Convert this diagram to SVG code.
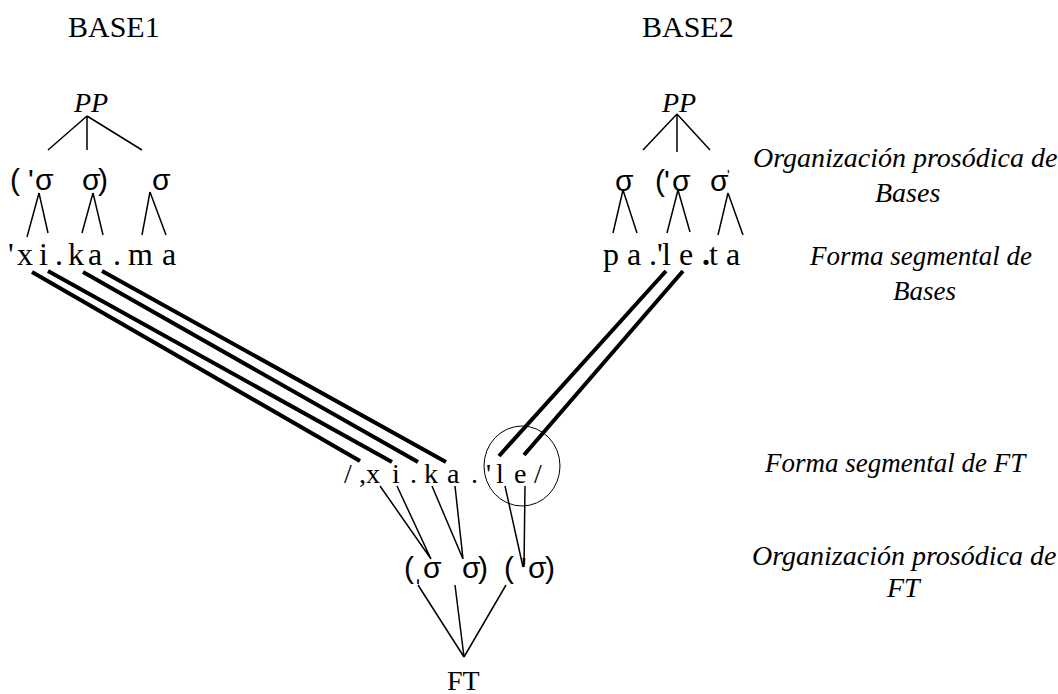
<svg xmlns="http://www.w3.org/2000/svg" width="1058" height="694" viewBox="0 0 1058 694">
  <style>
    .ser { font-family: "Liberation Serif", "DejaVu Serif", serif; fill: #000; }
    .it { font-family: "Liberation Serif", "DejaVu Serif", serif; font-style: italic; fill: #000; }
    .sans { font-family: "Liberation Sans", "DejaVu Sans", sans-serif; fill: #000; }
    .title { font-size: 30px; }
    .pp { font-size: 28px; }
    .seg { font-size: 32px; }
    .segft { font-size: 28px; }
    .syl { font-size: 30px; }
    .lab { font-size: 27px; }
    .lab2 { font-size: 28px; }
    .thin { stroke: #000; stroke-width: 1.5; fill: none; }
    .thick { stroke: #000; stroke-width: 4; fill: none; }
    .ring { stroke: #000; stroke-width: 1; fill: none; }
  </style>
  <rect width="1058" height="694" fill="#fff"/>

  <!-- Base 1 -->
  <g id="base1-title"><text class="ser title" x="68" y="37">BASE1</text></g>
  <g id="base1-pp"><text class="it pp" x="74" y="112">PP</text></g>
  <g id="base1-syllables"><text class="sans syl" x="10 28 35 82 98 152" y="190">('σσ)σ</text></g>
  <g id="base1-segments"><text class="ser seg" x="8 17 39 55 68 88 113 128 162" y="265">'xi.ka.ma</text></g>

  <!-- Base 2 -->
  <g id="base2-title"><text class="ser title" x="642" y="37">BASE2</text></g>
  <g id="base2-pp"><text class="it pp" x="662" y="112">PP</text></g>
  <g id="base2-syllables"><text class="sans syl" x="615 655 664 672 710" y="191">σ('σσ</text><text class="sans" font-size="14" x="727" y="180">'</text></g>
  <g id="base2-segments"><text class="ser seg" x="603 627 649 657 662 679" y="265">pa.'le</text><text class="ser seg" x="702" y="265" font-weight="bold">.</text><text class="ser seg" x="709 726" y="265">ta</text></g>

  <!-- FT -->
  <g id="ft-segments"><text class="ser segft" x="344 359 366 392 410 424 447 471 486 496 514 534" y="483">/,xi.ka.'le/</text></g>
  <g id="ft-syllables"><text class="sans syl" x="404 413 423 462 478 504 521 528 545" y="578">(ˌσσ)('σ)</text></g>
  <g id="ft-root"><text class="ser pp" x="447" y="690">FT</text></g>

  <!-- Level labels -->
  <g id="label-org-bases"><text class="it lab2" x="753" y="167">Organización prosódica de</text><text class="it lab2" x="875" y="202">Bases</text></g>
  <g id="label-seg-bases"><text class="it lab" x="810" y="265">Forma segmental de</text><text class="it lab" x="893" y="300">Bases</text></g>
  <g id="label-seg-ft"><text class="it lab" x="765" y="472">Forma segmental de FT</text></g>
  <g id="label-org-ft"><text class="it lab2" x="752" y="565">Organización prosódica de</text><text class="it lab2" x="887" y="597">FT</text></g>

  <g id="connectors">
    <!-- Base 1 tree -->
    <path class="thin" d="M87 116 L48 150 M87 116 L87 150 M87 116 L142 150"/>
    <path class="thin" d="M39 193 L27 237 M39 193 L48 233 M93 193 L82 233 M93 193 L103 235 M150 192 L142 235 M150 192 L166 235"/>
    <!-- Base 2 tree -->
    <path class="thin" d="M677 114 L643 150 M677 114 L677 152 M677 114 L710 150"/>
    <path class="thin" d="M623 190 L613 233 M623 190 L637 233 M678 190 L667 233 M678 190 L690 232 M728 193 L718 235 M728 193 L743 235"/>
    <!-- correspondence lines -->
    <path class="thick" d="M32 272 L360 461 M48 271 L392 462 M83 272 L418 462 M102 271 L446 462"/>
    <path class="thick" d="M666 271 L499 456 M683 271 L524 455"/>
    <ellipse class="ring" cx="522" cy="466" rx="38" ry="40"/>
    <!-- FT syllabification -->
    <path class="thin" d="M380 486 L431 559 M397 486 L431 559 M432 486 L463 559 M455 486 L463 559 M505 486 L523 567 M525 486 L524 567"/>
    <path class="thin" d="M418 585 L464 657 M455 585 L464 657 M506 585 L464 657"/>
  </g>
</svg>
